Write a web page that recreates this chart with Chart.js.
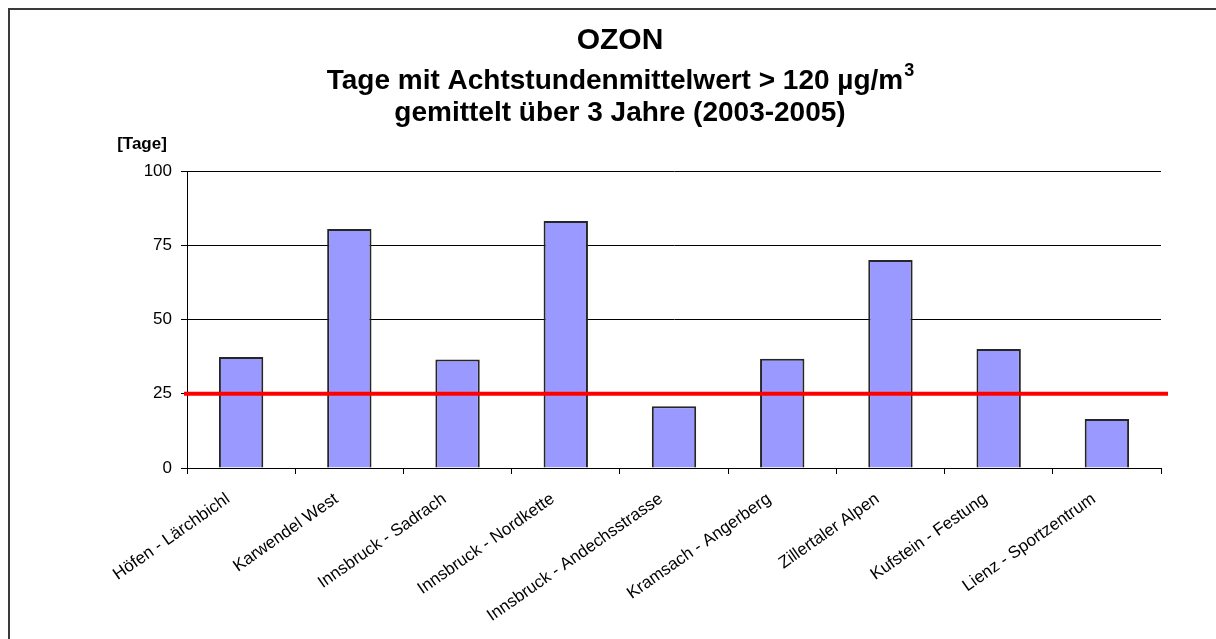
<!DOCTYPE html>
<html>
<head>
<meta charset="utf-8">
<script src="https://cdn.jsdelivr.net/npm/chart.js@4.4.1/dist/chart.umd.min.js"></script>
<style>
  html, body { margin: 0; padding: 0; background: #fff; overflow: hidden; width: 1216px; height: 639px; }
  #frame { position: absolute; left: 8px; top: 8px; width: 1300px; height: 700px; border-left: 2px solid #3a3a3a; border-top: 2px solid #3a3a3a; }
  #wrap { position: absolute; left: 10px; top: 10px; width: 1220px; height: 629px; }
</style>
</head>
<body>
<div id="frame"></div>
<div id="wrap"><canvas id="c" width="1220" height="629"></canvas></div>
<script>
// ---- data ----
const stations = [
  "Höfen - Lärchbichl",
  "Karwendel West",
  "Innsbruck - Sadrach",
  "Innsbruck - Nordkette",
  "Innsbruck - Andechsstrasse",
  "Kramsach - Angerberg",
  "Zillertaler Alpen",
  "Kufstein - Festung",
  "Lienz - Sportzentrum"
];
const days = [37.4, 80.5, 36.5, 83.2, 20.8, 36.8, 70.0, 40.1, 16.5];
const limitDays = 25;
const yTicks = [0, 25, 50, 75, 100];
const titleLine = "OZON";
const subLine1 = "Tage mit Achtstundenmittelwert > 120 µg/m";
const subLine1Sup = "3";
const subLine2 = "gemittelt über 3 Jahre (2003-2005)";
const unitLabel = "[Tage]";

const FONT = "'Liberation Sans', Arial, Helvetica, sans-serif";

const textPlugin = {
  id: 'textPlugin',
  afterDraw(chart) {
    const ctx = chart.ctx;
    const cx = 610;
    ctx.save();
    ctx.fillStyle = '#000';
    ctx.textBaseline = 'alphabetic';
    ctx.textAlign = 'center';
    ctx.font = "bold 30px " + FONT;
    ctx.fillText(titleLine, cx, 39);
    // line with superscript
    ctx.font = "bold 28px " + FONT;
    const w1 = ctx.measureText(subLine1).width;
    ctx.font = "bold 18px " + FONT;
    const w2 = ctx.measureText(subLine1Sup).width;
    const start = cx - (w1 + w2) / 2;
    ctx.textAlign = 'left';
    ctx.font = "bold 28px " + FONT;
    ctx.fillText(subLine1, start, 79);
    ctx.font = "bold 18px " + FONT;
    ctx.fillText(subLine1Sup, start + w1 + 1, 66);
    ctx.textAlign = 'center';
    ctx.font = "bold 28px " + FONT;
    ctx.fillText(subLine2, cx, 111);
    ctx.font = "bold 17px " + FONT;
    ctx.fillText(unitLabel, 132, 139);
    ctx.restore();
  }
};

const limitPlugin = {
  id: 'limitPlugin',
  afterDatasetsDraw(chart) {
    const ctx = chart.ctx;
    const y = chart.scales.y.getPixelForValue(limitDays);
    const a = chart.chartArea;
    ctx.save();
    ctx.strokeStyle = '#ff0000';
    ctx.lineWidth = 4;
    ctx.beginPath();
    ctx.moveTo(a.left - 3, y);
    ctx.lineTo(a.right + 7, y);
    ctx.stroke();
    ctx.restore();
  }
};

new Chart(document.getElementById('c'), {
  type: 'bar',
  data: {
    labels: stations,
    datasets: [{
      data: days,
      backgroundColor: '#9999ff',
      borderColor: '#262626',
      borderWidth: 2,
      barPercentage: 0.41,
      categoryPercentage: 1.0
    }]
  },
  options: {
    responsive: false,
    animation: false,
    events: [],
    layout: { padding: { left: 0, right: 69, top: 161, bottom: 0 } },
    plugins: { legend: { display: false }, tooltip: { enabled: false }, title: { display: false } },
    scales: {
      x: {
        offset: true,
        grid: {
          offset: true,
          drawOnChartArea: true,
          color: (c) => (c.index === stations.length ? '#808080' : 'rgba(0,0,0,0)'),
          tickColor: '#000',
          tickLength: 6,
          lineWidth: 1
        },
        border: { display: true, color: '#000', width: 1 },
        ticks: {
          autoSkip: false,
          minRotation: 35,
          maxRotation: 35,
          color: '#000',
          padding: 15,
          labelOffset: -13,
          font: { family: FONT, size: 17 }
        },
        afterFit: (s) => { s.height = 171; }
      },
      y: {
        min: 0,
        max: 100,
        afterBuildTicks: (s) => { s.ticks = yTicks.map(v => ({ value: v })); },
        grid: { color: '#000', lineWidth: 1, tickColor: '#000', tickLength: 6 },
        border: { display: true, color: '#000', width: 1 },
        ticks: {
          color: '#000',
          padding: 9,
          font: { family: FONT, size: 17 }
        },
        afterFit: (s) => { s.width = 177; }
      }
    }
  },
  plugins: [limitPlugin, textPlugin]
});
</script>
</body>
</html>
